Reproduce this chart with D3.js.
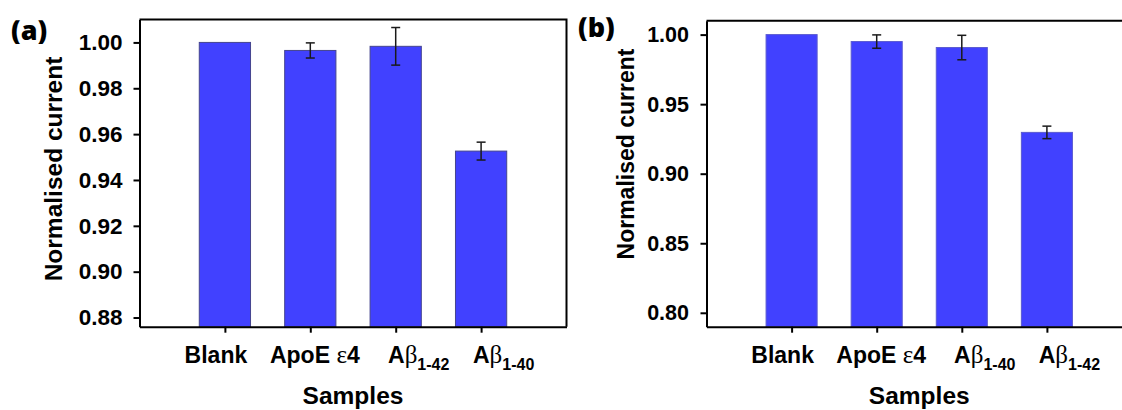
<!DOCTYPE html>
<html>
<head>
<meta charset="utf-8">
<script src="https://cdn.jsdelivr.net/npm/d3@7"></script>
<style>
  body { margin: 0; background: #fff; }
  svg { display: block; }
  text { font-family: "Liberation Sans", Arial, sans-serif; font-weight: bold; fill: #000; }
</style>
</head>
<body>
<svg id="chart" width="1122" height="410"></svg>
<script>
// Panel (a) data
const samplesA = ["Blank", "ApoE ε4", "Aβ_1-42", "Aβ_1-40"];
const currentA = [1.000, 0.9965, 0.9983, 0.9526];
const errorA   = [0, 0.0033, 0.0082, 0.0039];
const ticksA   = [0.88, 0.90, 0.92, 0.94, 0.96, 0.98, 1.00];

// Panel (b) data
const samplesB = ["Blank", "ApoE ε4", "Aβ_1-40", "Aβ_1-42"];
const currentB = [1.000, 0.9950, 0.9907, 0.9297];
const errorB   = [0, 0.0048, 0.0088, 0.0045];
const ticksB   = [0.80, 0.85, 0.90, 0.95, 1.00];

const svg = d3.select("#chart");

// horizontal nudge of each category label relative to its tick
const labelShift = [-9, 4.5, 23, 22.5];

function drawPanel(cfg) {
  const g = svg.append("g");
  const x = d3.scalePoint().domain(cfg.samples).range([cfg.left, cfg.right]).padding(1);
  const y = d3.scaleLinear().domain(cfg.domain).range([cfg.bottom, cfg.top]);
  const bw = x.step() * 0.6;
  const rows = cfg.samples.map((s, i) => ({ s, v: cfg.values[i], e: cfg.errors[i], i }));

  // bars
  g.selectAll("rect.bar").data(rows).enter().append("rect")
    .attr("class", "bar")
    .attr("x", d => x(d.s) - bw / 2)
    .attr("y", d => y(d.v))
    .attr("width", bw)
    .attr("height", d => y(cfg.domain[0]) - y(d.v))
    .attr("fill", "#4141ff")
    .attr("stroke", cfg.barStroke)
    .attr("stroke-width", 1);

  // error bars
  const eb = g.selectAll("g.err").data(rows.filter(d => d.e > 0)).enter().append("g")
    .attr("stroke", "#1a1a1a").attr("stroke-width", 1.5);
  eb.append("line")
    .attr("x1", d => x(d.s)).attr("x2", d => x(d.s))
    .attr("y1", d => y(d.v - d.e)).attr("y2", d => y(d.v + d.e));
  eb.append("line")
    .attr("x1", d => x(d.s) - 4.5).attr("x2", d => x(d.s) + 4.5)
    .attr("y1", d => y(d.v + d.e)).attr("y2", d => y(d.v + d.e));
  eb.append("line")
    .attr("x1", d => x(d.s) - 4.5).attr("x2", d => x(d.s) + 4.5)
    .attr("y1", d => y(d.v - d.e)).attr("y2", d => y(d.v - d.e));

  // frame: top and right edges
  g.append("path")
    .attr("d", `M${cfg.left},${cfg.top}H${cfg.right}V${cfg.bottom}`)
    .attr("fill", "none").attr("stroke", "#000").attr("stroke-width", 2);

  // y axis
  const ya = g.append("g").attr("transform", `translate(${cfg.left},0)`)
    .call(d3.axisLeft(y).tickValues(cfg.ticks).tickFormat(d3.format(".2f"))
      .tickSize(6).tickSizeOuter(0).tickPadding(cfg.tickPad));
  ya.select(".domain").attr("stroke-width", 2);
  ya.selectAll(".tick line").attr("stroke-width", 2);
  ya.selectAll(".tick text")
    .style("font-size", cfg.tickFont + "px")
    .style("font-family", '"Liberation Sans", Arial, sans-serif')
    .style("font-weight", "bold");

  // x axis
  const xa = g.append("g").attr("transform", `translate(0,${cfg.bottom})`)
    .call(d3.axisBottom(x).tickSize(6).tickSizeOuter(0).tickFormat(""));
  xa.select(".domain").attr("stroke-width", 2);
  xa.selectAll(".tick line").attr("stroke-width", 2);

  // category labels with serif Greek letters and subscripts
  rows.forEach(d => {
    const t = g.append("text")
      .attr("x", x(d.s) + labelShift[d.i])
      .attr("y", cfg.bottom + 36.5)
      .attr("text-anchor", "middle")
      .style("font-size", "23px");
    const [main, sub] = d.s.split("_");
    for (const ch of main) {
      const greek = /[α-ωε]/.test(ch);
      t.append("tspan")
        .style("font-family", greek ? '"Liberation Serif", serif' : null)
        .style("font-weight", greek ? "normal" : null)
        .style("font-size", greek ? "25px" : null)
        .text(ch);
    }
    if (sub) {
      t.append("tspan").attr("dy", 7).style("font-size", "16px").text(sub);
    }
  });

  // axis titles
  g.append("text")
    .attr("x", (cfg.left + cfg.right) / 2).attr("y", 404)
    .attr("text-anchor", "middle").style("font-size", "24.5px")
    .text("Samples");
  g.append("text")
    .attr("transform", `translate(${cfg.ylabX},${cfg.ylabY}) rotate(-90)`)
    .attr("text-anchor", "middle").style("font-size", cfg.ylabFont + "px")
    .text("Normalised current");

  // panel tag
  g.append("text")
    .attr("x", cfg.tagX).attr("y", cfg.tagY)
    .style("font-family", '"Open Sans", sans-serif')
    .style("font-weight", "800")
    .style("font-size", "27px")
    .text(cfg.tag);
}

drawPanel({
  samples: samplesA, values: currentA, errors: errorA, ticks: ticksA,
  domain: [0.876, 1.010], left: 139.5, right: 566.5, top: 19.5, bottom: 326.7,
  tickFont: 22.5, tickPad: 11, ylabX: 62, ylabY: 169, ylabFont: 24.5,
  barStroke: "#45458f", tag: "(a)", tagX: 11, tagY: 40
});

drawPanel({
  samples: samplesB, values: currentB, errors: errorB, ticks: ticksB,
  domain: [0.790, 1.010], left: 706.5, right: 1132, top: 20.7, bottom: 326.7,
  tickFont: 21.5, tickPad: 11.5, ylabX: 634, ylabY: 154, ylabFont: 23,
  barStroke: "#5a5ad0", tag: "(b)", tagX: 578, tagY: 37
});
</script>
</body>
</html>
